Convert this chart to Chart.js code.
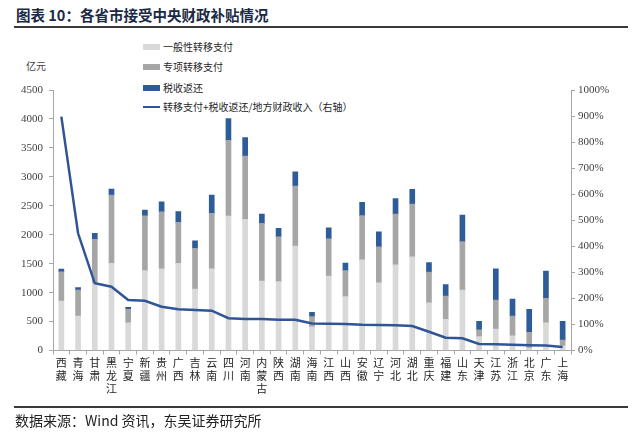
<!DOCTYPE html>
<html>
<head>
<meta charset="UTF-8" />
<title>Chart</title>
<style type="text/css">
body { margin: 0; width: 640px; height: 433px; position: relative; background: #fff; overflow: hidden; font-family: "Noto Sans CJK SC", sans-serif; }
#title { position: absolute; left: 16px; top: 4px; font-size: 14.5px; font-weight: bold; color: #1b2a44; white-space: nowrap; }
.rule { position: absolute; left: 14px; width: 614px; height: 2px; background: #3a3a3a; }
#unit { position: absolute; left: 26px; top: 58px; font-size: 10px; color: #404040; }
.leg { position: absolute; left: 143px; font-size: 10px; color: #262626; white-space: nowrap; line-height: 14px; }
.leg i { display: inline-block; width: 17px; height: 6px; margin-right: 3px; vertical-align: middle; position: relative; top: -1px; }
#source { position: absolute; left: 15px; top: 410px; font-size: 14px; color: #222; white-space: nowrap; }
canvas { position: absolute; left: 0; top: 0; }
</style>
</head>
<body>
<script src="https://cdn.jsdelivr.net/npm/chart.js@4/dist/chart.umd.min.js"></script>
<div id="title">图表 10：各省市接受中央财政补贴情况</div>
<div class="rule" style="top:26px"></div>
<div id="unit">亿元</div>
<div class="leg" style="top:40px"><i style="background:#d9d9d9"></i>一般性转移支付</div>
<div class="leg" style="top:60px"><i style="background:#a6a6a6"></i>专项转移支付</div>
<div class="leg" style="top:81px"><i style="background:#2e5c99"></i>税收返还</div>
<div class="leg" style="top:100px"><i style="background:#2f5597;height:2px"></i>转移支付+税收返还/地方财政收入（右轴）</div>
<canvas id="myChart" width="640" height="433"></canvas>
<div class="rule" style="top:406px"></div>
<div id="source">数据来源：Wind 资讯，东吴证券研究所</div>
<script charset="utf-8">
const provinces = ['西藏','青海','甘肃','黑龙江','宁夏','新疆','贵州','广西','吉林','云南','四川','河南','内蒙古','陕西','湖南','海南','江西','山西','安徽','辽宁','河北','湖北','重庆','福建','山东','天津','江苏','浙江','北京','广东','上海'];
const general = [855,595,1170,1505,480,1380,1410,1505,1060,1410,2320,2265,1200,1190,1805,410,1285,930,1565,1170,1480,1620,825,540,1045,240,370,255,40,480,80];
const special = [506,450,750,1180,230,945,985,710,705,960,1310,1095,995,775,1035,175,645,450,765,620,875,910,530,400,835,115,500,340,275,420,100];
const taxReturn = [46,40,105,105,35,100,175,185,130,315,375,320,160,145,245,75,190,130,230,260,270,255,165,200,460,150,540,295,395,470,325];
const ratio = [898,450,258,245,194,191,168,158,155,153,124,121,121,118,118,104,103,102,99,98,97,94,72,49,47,25,24,22,20,19,13];

const axisColor = '#a6a6a6';
const tickFont = { family: '"Liberation Serif", serif', size: 11 };

const data = {
	labels: provinces.map(p => p.split('')),
	datasets: [
		{ type: 'line', label: '转移支付+税收返还/地方财政收入（右轴）', data: ratio, yAxisID: 'y1', borderColor: '#2f5597', borderWidth: 2.5, pointRadius: 0, tension: 0, order: 0 },
		{ label: '一般性转移支付', data: general, backgroundColor: '#d9d9d9', yAxisID: 'y', barThickness: 5, order: 1 },
		{ label: '专项转移支付', data: special, backgroundColor: '#a6a6a6', yAxisID: 'y', barThickness: 5, order: 1 },
		{ label: '税收返还', data: taxReturn, backgroundColor: '#2e5c99', yAxisID: 'y', barThickness: 5, order: 1 }
	]
};

const config = {
	type: 'bar',
	data,
	options: {
		responsive: false,
		animation: false,
		layout: { padding: { top: 90, left: 0, right: 0, bottom: 0 } },
		plugins: { legend: { display: false }, tooltip: { enabled: false } },
		scales: {
			x: {
				stacked: true,
				afterFit: s => { s.height = 82.5; },
				grid: { drawOnChartArea: false, tickLength: 4, color: axisColor, offset: true },
				border: { color: axisColor },
				ticks: { autoSkip: false, maxRotation: 0, color: '#262626', padding: 2, font: { family: 'Noto Sans CJK SC', size: 11, lineHeight: 1.18 } }
			},
			y: {
				stacked: true,
				position: 'left',
				min: 0, max: 4500,
				afterFit: s => { s.width = 53; },
				grid: { drawOnChartArea: false, tickLength: 4, color: axisColor },
				border: { color: axisColor },
				ticks: { stepSize: 500, color: '#404040', padding: 6, font: tickFont, callback: v => String(v) }
			},
			y1: {
				position: 'right',
				min: 0, max: 1000,
				afterFit: s => { s.width = 69; },
				grid: { drawOnChartArea: false, tickLength: 4, color: axisColor },
				border: { color: axisColor },
				ticks: { stepSize: 100, color: '#404040', padding: 3, font: tickFont, callback: v => v + '%' }
			}
		}
	}
};

var ctx = document.getElementById('myChart').getContext('2d');
var myChart = new Chart(ctx, config);
</script>
</body>
</html>
